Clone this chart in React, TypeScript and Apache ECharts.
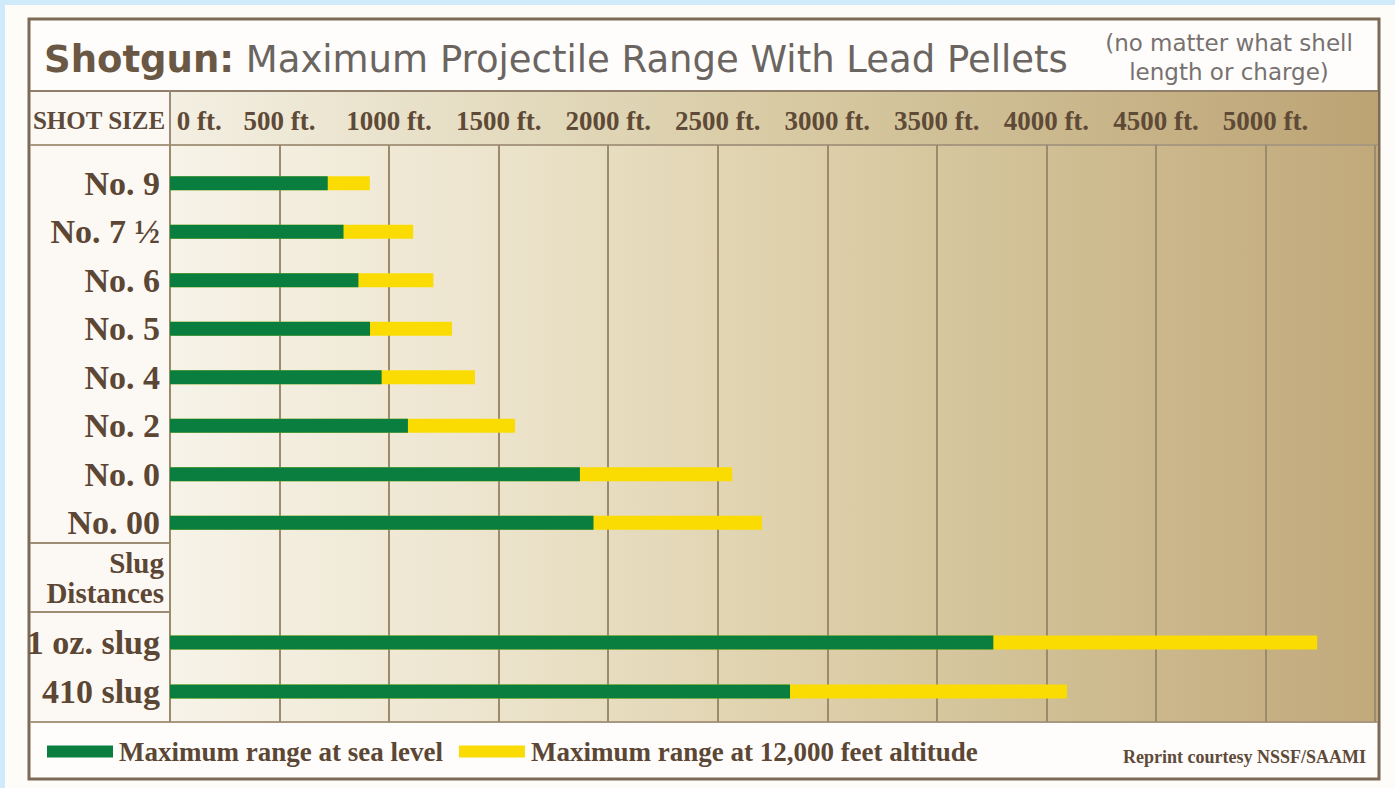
import React, { useEffect, useRef } from "react";
import * as echarts from "echarts";

// ---- data ----
const shotSizes = ["No. 9", "No. 7 ½", "No. 6", "No. 5", "No. 4", "No. 2", "No. 0", "No. 00"];
const shotSeaLevel = [720, 792, 860, 913, 966, 1086, 1871, 1933];
const shotAltitude = [912, 1110, 1202, 1287, 1392, 1575, 2566, 2702];

const slugTypes = ["1 oz. slug", "410 slug"];
const slugSeaLevel = [3758, 2830];
const slugAltitude = [5236, 4094];

const axisMin = 0;
const axisMax = 5500;
const axisStep = 500;

const seriesSea = "Maximum range at sea level";
const seriesAlt = "Maximum range at 12,000 feet altitude";

const GREEN = "#0a7e3f";
const YELLOW = "#fadc02";
const SERIF = "'Liberation Serif', 'DejaVu Serif', serif";
const SANS = "'DejaVu Sans', Verdana, sans-serif";
const BROWN = "#5c4634";

export default function App() {
  const ref = useRef<HTMLDivElement>(null);

  useEffect(() => {
    if (!ref.current) return;
    const chart = echarts.init(ref.current, null, { renderer: "svg" });

    const gridL = 170;
    const gridR = 1395 - 1375;

    const hiddenX = (gi: number) => ({
      type: "value",
      gridIndex: gi,
      min: axisMin,
      max: axisMax,
      interval: axisStep,
      show: false,
    });

    const catY = (gi: number, data: string[]) => ({
      type: "category",
      gridIndex: gi,
      data,
      inverse: true,
      axisLine: { show: false },
      axisTick: { show: false },
      axisLabel: {
        margin: 10,
        fontFamily: SERIF,
        fontWeight: "bold",
        fontSize: 34,
        color: BROWN,
      },
    });

    const bars = (gi: number, sea: number[], alt: number[]) => [
      {
        name: seriesAlt,
        type: "bar",
        xAxisIndex: gi,
        yAxisIndex: gi,
        data: alt,
        barWidth: 14,
        barGap: "-100%",
        itemStyle: { color: YELLOW },
        z: 3,
      },
      {
        name: seriesSea,
        type: "bar",
        xAxisIndex: gi,
        yAxisIndex: gi,
        data: sea,
        barWidth: 14,
        barGap: "-100%",
        itemStyle: { color: GREEN },
        z: 4,
      },
    ];

    const bgGrad = new echarts.graphic.LinearGradient(0, 0, 1, 0, [
      { offset: 0, color: "#f6f3e8" },
      { offset: 0.25, color: "#ede5cf" },
      { offset: 0.5, color: "#dfd2ad" },
      { offset: 0.75, color: "#cfbd92" },
      { offset: 1, color: "#c1a97b" },
    ]);
    const hdrGrad = new echarts.graphic.LinearGradient(0, 0, 1, 0, [
      { offset: 0, color: "#f3efe2" },
      { offset: 0.5, color: "#d8cba4" },
      { offset: 1, color: "#bca374" },
    ]);

    const option = {
      animation: false,
      backgroundColor: "#cfeafa",
      grid: [
        { left: gridL, right: gridR, top: 145, height: 577, containLabel: false },
        { left: gridL, right: gridR, top: 159, height: 388, containLabel: false },
        { left: gridL, right: gridR, top: 618, height: 98, containLabel: false },
      ],
      xAxis: [
        {
          type: "value",
          gridIndex: 0,
          min: axisMin,
          max: axisMax,
          interval: axisStep,
          position: "top",
          axisLine: { show: false },
          axisTick: { show: false },
          splitLine: { show: true, lineStyle: { color: "#9c8a6d", width: 2 } },
          axisLabel: {
            margin: 11,
            showMaxLabel: false,
            alignMinLabel: "left",
            fontFamily: SERIF,
            fontWeight: "bold",
            fontSize: 27,
            color: "#5e4a36",
            formatter: (v: number) => (v === 0 ? ` ${v} ft.` : `${v} ft.`),
          },
        },
        hiddenX(1),
        hiddenX(2),
      ],
      yAxis: [
        { type: "value", gridIndex: 0, show: false, min: 0, max: 1 },
        catY(1, shotSizes),
        catY(2, slugTypes),
      ],
      legend: {
        left: 42,
        top: 733,
        itemWidth: 66,
        itemHeight: 12,
        itemGap: 16,
        icon: "rect",
        selectedMode: false,
        data: [seriesSea, seriesAlt],
        textStyle: {
          fontFamily: SERIF,
          fontWeight: "bold",
          fontSize: 27,
          color: BROWN,
          padding: [0, 0, 0, 1],
        },
      },
      series: [...bars(1, shotSeaLevel, shotAltitude), ...bars(2, slugSeaLevel, slugAltitude)],
      graphic: [
        // outer pale area
        { type: "rect", z: -10, shape: { x: 5, y: 5, width: 1390, height: 783 }, style: { fill: "#fdfcf8" } },
        // framed panel
        { type: "rect", z: -9, shape: { x: 29, y: 19, width: 1350, height: 760 }, style: { fill: "#fefdfb", stroke: "#7c6a57", lineWidth: 3 } },
        // header row
        { type: "rect", z: -8, shape: { x: 170, y: 91, width: 1208, height: 54 }, style: { fill: hdrGrad } },
        // left column
        { type: "rect", z: -8, shape: { x: 31, y: 91, width: 139, height: 631 }, style: { fill: "#fcf9f4" } },
        // plot background
        { type: "rect", z: -8, shape: { x: 170, y: 145, width: 1208, height: 577 }, style: { fill: bgGrad } },
        // rule lines
        { type: "line", z: -7, shape: { x1: 30, y1: 91, x2: 1378, y2: 91 }, style: { stroke: "#8f7f6b", lineWidth: 2 } },
        { type: "line", z: -7, shape: { x1: 30, y1: 145, x2: 1378, y2: 145 }, style: { stroke: "#a8987f", lineWidth: 2 } },
        { type: "line", z: -7, shape: { x1: 30, y1: 722, x2: 1378, y2: 722 }, style: { stroke: "#a8987f", lineWidth: 2 } },
        { type: "line", z: -7, shape: { x1: 170, y1: 91, x2: 170, y2: 722 }, style: { stroke: "#9d8c76", lineWidth: 2 } },
        { type: "line", z: -7, shape: { x1: 30, y1: 543, x2: 170, y2: 543 }, style: { stroke: "#9d8c76", lineWidth: 2 } },
        { type: "line", z: -7, shape: { x1: 30, y1: 612, x2: 170, y2: 612 }, style: { stroke: "#9d8c76", lineWidth: 2 } },
        // title
        {
          type: "text",
          z: 10,
          left: 44,
          top: 41,
          style: {
            text: "{b|Shotgun:}{r| Maximum Projectile Range With Lead Pellets}",
            rich: {
              b: { fontFamily: SANS, fontWeight: "bold", fontSize: 37, fill: "#6a5845" },
              r: { fontFamily: SANS, fontSize: 37, fill: "#6b6561" },
            },
          },
        },
        {
          type: "text",
          z: 10,
          x: 1229,
          y: 57,
          style: {
            text: "(no matter what shell\nlength or charge)",
            fontFamily: SANS,
            fontSize: 23,
            lineHeight: 29,
            fill: "#777170",
            align: "center",
            verticalAlign: "middle",
          },
        },
        {
          type: "text",
          z: 10,
          x: 99,
          y: 120,
          style: {
            text: "SHOT SIZE",
            fontFamily: SERIF,
            fontWeight: "bold",
            fontSize: 25,
            fill: "#5e4a39",
            align: "center",
            verticalAlign: "middle",
          },
        },
        {
          type: "text",
          z: 10,
          x: 164,
          y: 578,
          style: {
            text: "Slug\nDistances",
            fontFamily: SERIF,
            fontWeight: "bold",
            fontSize: 29,
            lineHeight: 30,
            fill: BROWN,
            align: "right",
            verticalAlign: "middle",
          },
        },
        {
          type: "text",
          z: 10,
          x: 1366,
          y: 757,
          style: {
            text: "Reprint courtesy NSSF/SAAMI",
            fontFamily: SERIF,
            fontWeight: "bold",
            fontSize: 18,
            fill: "#5e4a39",
            align: "right",
            verticalAlign: "middle",
          },
        },
      ],
    };

    chart.setOption(option as any);
    return () => chart.dispose();
  }, []);

  return (
    <div
      ref={ref}
      style={{ position: "fixed", left: 0, top: 0, width: 1395, height: 788 }}
    />
  );
}
